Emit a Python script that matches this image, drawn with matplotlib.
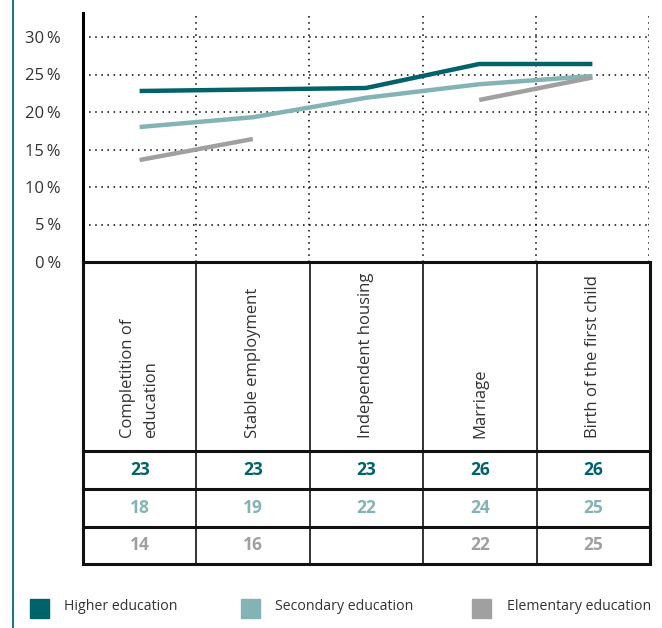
import matplotlib
matplotlib.use("Agg")
import matplotlib.pyplot as plt
from matplotlib.patches import Rectangle
from matplotlib.lines import Line2D
import numpy as np

plt.rcParams['font.family'] = ['Open Sans', 'DejaVu Sans']

# ---- data -------------------------------------------------------------
categories = ["Completition of\neducation", "Stable employment",
              "Independent housing", "Marriage", "Birth of the first child"]
series_names = ["Higher education", "Secondary education", "Elementary education"]
higher = [22.8, 23.0, 23.2, 26.4, 26.4]
secondary = [18.0, 19.3, 21.9, 23.7, 24.8]
elementary = [13.6, 16.4, None, 21.6, 24.6]
y_ticks = [0, 5, 10, 15, 20, 25, 30]
y_tick_labels = ["0\u2009%", "5\u2009%", "10\u2009%", "15\u2009%", "20\u2009%", "25\u2009%", "30\u2009%"]

colors = ["#00636a", "#84b3b5", "#a0a0a0"]
series = [higher, secondary, elementary]
text_color = "#333333"

W, H = 662, 628
fig = plt.figure(figsize=(W / 100, H / 100), dpi=100)


def fx(px):
    return px / W


def fy(py):
    return 1 - py / H


# ---- line chart -------------------------------------------------------
x_left, x_right = 83, 649
y_top, y_zero = 13, 262
ax = fig.add_axes([fx(x_left), fy(y_zero), fx(x_right) - fx(x_left), fy(y_top) - fy(y_zero)])
ncat = len(categories)
ax.set_xlim(0, ncat)
ax.set_ylim(0, (y_zero - y_top) / 7.5)

for s in ["top", "right", "bottom"]:
    ax.spines[s].set_visible(False)
ax.spines["left"].set_linewidth(2.2)
ax.spines["left"].set_color("black")

dot = (0, (1, 3))
for t in y_ticks[1:]:
    ax.axhline(t, color="black", lw=1.1, ls=dot, zorder=1)
for i in range(1, ncat + 1):
    ax.axvline(i, color="black", lw=1.1, ls=dot, zorder=1)

xs = np.arange(ncat) + 0.5
for vals, c in zip(series, colors):
    y = np.array([np.nan if v is None else v for v in vals], dtype=float)
    ax.plot(xs, y, color=c, lw=3.2, solid_capstyle="butt", zorder=3)

ax.set_xticks([])
ax.set_yticks(y_ticks)
ax.set_yticklabels(y_tick_labels, fontsize=12, color=text_color)
ax.tick_params(axis="y", length=0, pad=16)

# ---- table ------------------------------------------------------------
t_top, t_head, t_r1, t_r2, t_bot = 262, 451, 489, 527, 564
tax = fig.add_axes([fx(x_left), fy(t_bot), fx(x_right + 1) - fx(x_left), fy(t_top) - fy(t_bot)])
tax.set_xlim(0, ncat)
tax.set_ylim(t_bot, t_top)
tax.axis("off")

for yy in [t_top, t_head, t_r1, t_r2, t_bot]:
    tax.add_line(Line2D([0, ncat], [yy, yy], color="#111111", lw=2.2, clip_on=False))
for i in range(ncat + 1):
    lw = 2.2 if i in (0, ncat) else 1.2
    tax.add_line(Line2D([i, i], [t_top, t_bot], color="#111111", lw=lw, clip_on=False))

for i, cat in enumerate(categories):
    tax.text(i + 0.5, t_head - 13, cat, rotation=90, ha="center", va="bottom",
             multialignment="left", fontsize=12, color=text_color,
             linespacing=1.55)

row_centers = [(t_head + t_r1) / 2, (t_r1 + t_r2) / 2, (t_r2 + t_bot) / 2]
for vals, c, yc in zip(series, colors, row_centers):
    for i, v in enumerate(vals):
        if v is None:
            continue
        tax.text(i + 0.5, yc, f"{v:.0f}", ha="center", va="center",
                 fontsize=12.5, fontweight="bold", color=c)

# ---- legend -----------------------------------------------------------
leg_sq_x = [30, 241, 472]
leg_txt_x = [64, 275, 507]
for name, c, sx, tx in zip(series_names, colors, leg_sq_x, leg_txt_x):
    fig.patches.append(Rectangle((fx(sx), fy(618)), fx(19), 19 / H, color=c,
                                 transform=fig.transFigure, figure=fig))
    fig.text(fx(tx), fy(607), name, ha="left", va="center", fontsize=10.2,
             color=text_color)

# left accent rule
fig.add_artist(Line2D([fx(13), fx(13)], [0, 1], color="#1b7a80", lw=1.5,
                      transform=fig.transFigure))

fig.savefig("out.png", dpi=100)
